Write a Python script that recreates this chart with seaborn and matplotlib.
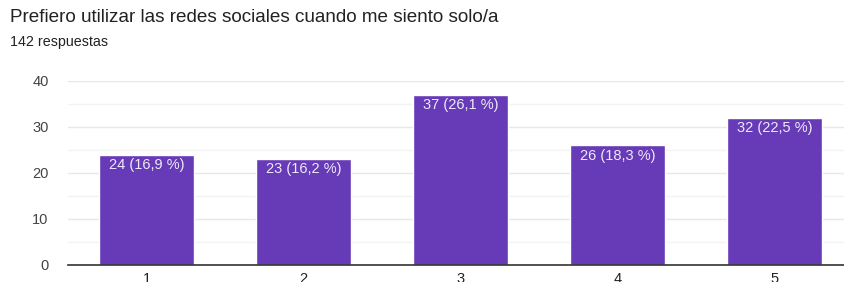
import matplotlib
matplotlib.use("Agg")
import matplotlib.pyplot as plt
import seaborn as sns
import pandas as pd

# ---------------------------------------------------------------------------
# Data
# ---------------------------------------------------------------------------
TITLE = "Prefiero utilizar las redes sociales cuando me siento solo/a"
SUBTITLE = "142 respuestas"
categories = ["1", "2", "3", "4", "5"]
counts = [24, 23, 37, 26, 32]
percents = ["16,9", "16,2", "26,1", "18,3", "22,5"]
yticks = [0, 10, 20, 30, 40]

BAR_COLOR = "#673ab7"

sns.set_theme(style="white")
plt.rcParams["font.family"] = ["Liberation Sans", "DejaVu Sans"]

df = pd.DataFrame({"cat": categories, "n": counts})

fig = plt.figure(figsize=(8.45, 2.82), dpi=100)
ax = fig.add_axes([68 / 845, 17 / 282, 785 / 845, 184 / 282])

sns.barplot(data=df, x="cat", y="n", color=BAR_COLOR, saturation=1,
            width=0.61, ax=ax, zorder=3)

ax.set_xlim(-0.5, 4.5)
ax.set_ylim(0, 40)
ax.set_yticks(yticks)
ax.set_yticks([5, 15, 25, 35], minor=True)
ax.grid(axis="y", which="major", color="#e8e8e8", linewidth=1, zorder=0)
ax.grid(axis="y", which="minor", color="#f3f3f3", linewidth=1, zorder=0)
ax.tick_params(axis="y", which="both", length=0, labelsize=10.5,
               labelcolor="#444444", pad=14)
ax.tick_params(axis="x", length=0, labelsize=10.5, labelcolor="#222222", pad=5)
ax.set_xlabel("")
ax.set_ylabel("")
for side in ["top", "right", "left"]:
    ax.spines[side].set_visible(False)
ax.spines["bottom"].set_color("#333333")
ax.spines["bottom"].set_linewidth(1.2)
ax.spines["bottom"].set_zorder(4)

for patch, n, p in zip(ax.patches, counts, percents):
    x = patch.get_x() + patch.get_width() / 2
    ax.text(x, n - 0.7, f"{n} ({p} %)", ha="center", va="top",
            color="#eeeaf7", fontsize=10.5, zorder=5)

fig.text(10 / 845, 1 - 18 / 282, TITLE, ha="left", va="center",
         fontsize=13.6, color="#222222")
fig.text(10 / 845, 1 - 42 / 282, SUBTITLE, ha="left", va="center",
         fontsize=10.3, color="#222222")

fig.savefig("out.png", dpi=100)
